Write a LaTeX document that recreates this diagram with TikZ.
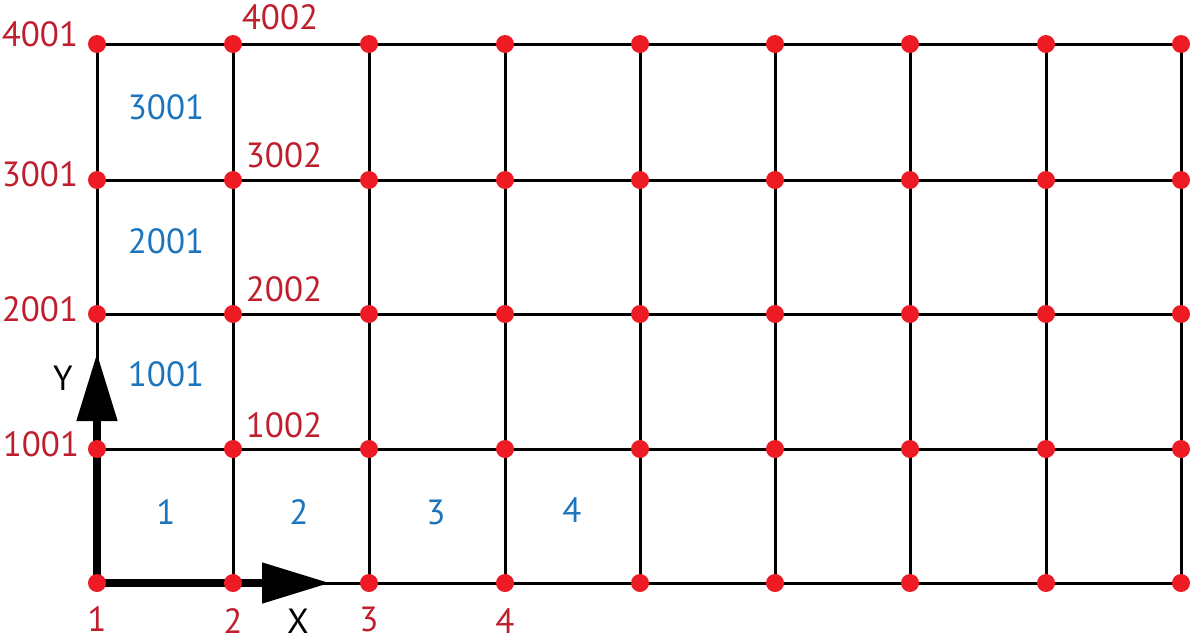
\documentclass[tikz,border=0pt]{standalone}
\usepackage{fontspec}
\setmainfont{PT Sans}
\usetikzlibrary{arrows.meta}
\definecolor{dotred}{RGB}{237,28,36}
\definecolor{labred}{RGB}{190,30,45}
\definecolor{labblue}{RGB}{28,117,188}
\tikzset{
  dot/.style={circle,fill=dotred,inner sep=0pt,minimum size=18pt},
  gridline/.style={line width=3pt,black},
  axis/.style={line width=8pt,black,-{Triangle[length=68pt,width=39pt]}},
  nlab/.style={text=labred,font=\fontsize{35}{36}\selectfont,inner sep=0pt},
  elab/.style={text=labblue,font=\fontsize{35}{36}\selectfont,inner sep=0pt},
  alab/.style={text=black,font=\fontsize{35}{36}\selectfont,inner sep=0pt}
}
\begin{document}
\begin{tikzpicture}[x=1pt,y=-1pt]
\useasboundingbox (0,0) rectangle (1192,641);
% coordinates of grid points
\foreach \i/\x in {1/97,2/233,3/369,4/505,5/640,6/775,7/910,8/1046,9/1181}{
  \foreach \j/\y in {1/583,2/449,3/314,4/180,5/44}{
    \coordinate (p-\i-\j) at (\x,\y);
  }
}
% grid lines
\foreach \j in {1,...,5}{\draw[gridline] (p-1-\j) -- (p-9-\j);}
\foreach \i in {1,...,9}{\draw[gridline] (p-\i-1) -- (p-\i-5);}
% axes
\coordinate (xt) at (330,583);
\coordinate (yt) at (97,353);
\draw[axis] (p-1-1) -- (xt);
\draw[axis] (p-1-1) -- (yt);
% dots
\foreach \i in {1,...,9}{\foreach \j in {1,...,5}{\node[dot] (d-\i-\j) at (p-\i-\j) {};}}
% node labels
\node[nlab] (l4001) at (40,34) {4001};
\node[nlab] (l3001) at (40,174) {3001};
\node[nlab] (l2001) at (40,309) {2001};
\node[nlab] (l1001) at (41,444) {1001};
\node[nlab] (l4002) at (280,17) {4002};
\node[nlab] (l3002) at (284,155) {3002};
\node[nlab] (l2002) at (284,289) {2002};
\node[nlab] (l1002) at (284,425) {1002};
\node[nlab] (l1) at (97,619) {1};
\node[nlab] (l2) at (233,621) {2};
\node[nlab] (l3) at (369,619) {3};
\node[nlab] (l4) at (505,621) {4};
% element labels
\node[elab] (e3001) at (166,107) {3001};
\node[elab] (e2001) at (166,241) {2001};
\node[elab] (e1001) at (166,374) {1001};
\node[elab] (e1) at (166,512) {1};
\node[elab] (e2) at (299,512) {2};
\node[elab] (e3) at (436,512) {3};
\node[elab] (e4) at (572,510) {4};
% axis labels
\node[alab] (ax) at (298,621) {X};
\node[alab] (ay) at (63,378) {Y};
\end{tikzpicture}
\end{document}
